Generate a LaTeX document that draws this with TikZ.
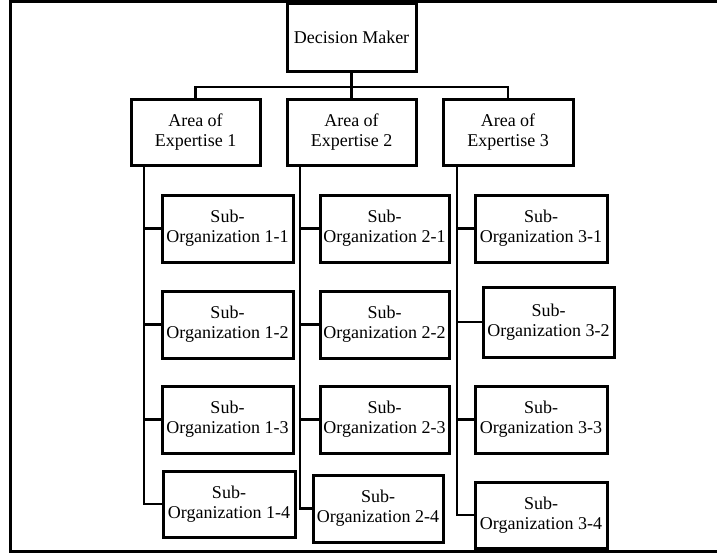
\documentclass[tikz,border=0pt]{standalone}
\usepackage{fontspec}
\setmainfont{Liberation Serif}
\begin{document}
\begin{tikzpicture}[x=1pt,y=-1pt,
  box/.style={draw=black, line width=3pt, rectangle, inner sep=0pt, align=center,
    font=\fontsize{18}{20}\selectfont},
  conn/.style={draw=black, line width=2.5pt}]
\useasboundingbox (0,0) rectangle (717,554);
\draw[line width=3pt] (717,1) -- (10,1) -- (10,551) -- (717,551);

\node[box, minimum width=129pt, minimum height=68pt] (DM) at (351.5,37) {Decision Maker};
\node[box, minimum width=129pt, minimum height=66pt] (A1) at (195.5,132) {Area of\\Expertise 1};
\node[box, minimum width=129pt, minimum height=66pt] (A2) at (351.5,132) {Area of\\Expertise 2};
\node[box, minimum width=130pt, minimum height=66pt] (A3) at (508,132) {Area of\\Expertise 3};

\node[box, minimum width=131pt, minimum height=67pt] (S11) at (227.5,228.5) {Sub-\\Organization 1-1};
\node[box, minimum width=131pt, minimum height=67pt] (S12) at (227.5,324.5) {Sub-\\Organization 1-2};
\node[box, minimum width=131pt, minimum height=67pt] (S13) at (227.5,419.5) {Sub-\\Organization 1-3};
\node[box, minimum width=132pt, minimum height=66pt] (S14) at (229,504) {Sub-\\Organization 1-4};

\node[box, minimum width=129pt, minimum height=67pt] (S21) at (384.5,228.5) {Sub-\\Organization 2-1};
\node[box, minimum width=129pt, minimum height=67pt] (S22) at (384.5,324.5) {Sub-\\Organization 2-2};
\node[box, minimum width=129pt, minimum height=67pt] (S23) at (384.5,419.5) {Sub-\\Organization 2-3};
\node[box, minimum width=130pt, minimum height=67pt] (S24) at (378,508.5) {Sub-\\Organization 2-4};

\node[box, minimum width=132pt, minimum height=67pt] (S31) at (541,228.5) {Sub-\\Organization 3-1};
\node[box, minimum width=131pt, minimum height=70pt] (S32) at (548.5,322) {Sub-\\Organization 3-2};
\node[box, minimum width=132pt, minimum height=67pt] (S33) at (541,419.5) {Sub-\\Organization 3-3};
\node[box, minimum width=132pt, minimum height=66pt] (S34) at (541,515) {Sub-\\Organization 3-4};

\coordinate (bus) at (351.5,87);
\coordinate (t1) at (144,0);
\coordinate (t2) at (300,0);
\coordinate (t3) at (457,0);

\draw[conn] (DM.south) -- (bus);
\draw[conn] (bus) -| (A1.north);
\draw[conn] (bus) -- (A2.north);
\draw[conn] (bus) -| (A3.north);

\draw[conn] (A1.south -| t1) |- (S14.west);
\draw[conn] (S11.west) -- (S11.west -| t1);
\draw[conn] (S12.west) -- (S12.west -| t1);
\draw[conn] (S13.west) -- (S13.west -| t1);

\draw[conn] (A2.south -| t2) |- (S24.west);
\draw[conn] (S21.west) -- (S21.west -| t2);
\draw[conn] (S22.west) -- (S22.west -| t2);
\draw[conn] (S23.west) -- (S23.west -| t2);

\draw[conn] (A3.south -| t3) |- (S34.west);
\draw[conn] (S31.west) -- (S31.west -| t3);
\draw[conn] (S32.west) -- (S32.west -| t3);
\draw[conn] (S33.west) -- (S33.west -| t3);
\end{tikzpicture}
\end{document}
